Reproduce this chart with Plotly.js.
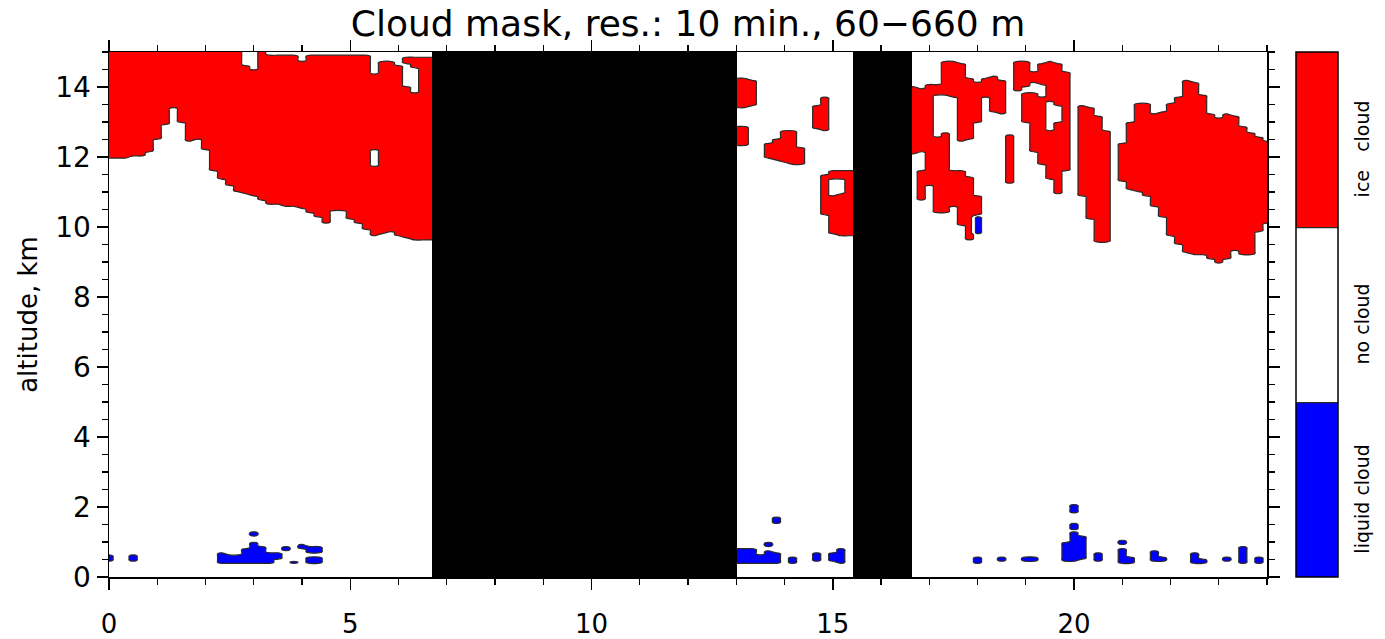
<!DOCTYPE html>
<html>
<head>
<meta charset="utf-8">
<script src="https://cdn.plot.ly/plotly-3.0.1.min.js"></script>
<style>
html, body { margin: 0; padding: 0; background: #ffffff; }
#chart { width: 1385px; height: 639px; }
</style>
</head>
<body>
<div id="chart"></div>
<script>
// ---------------- data ----------------
const chartTitle = 'Cloud mask, res.: 10 min., 60\u2212660 m';
const yTitle = 'altitude, km';
const classValues = [0, 1, 2];
const classLabels = ['liquid\u00a0cloud', 'no\u00a0cloud', 'ice\u00a0\u00a0\u00a0cloud'];
const classColors = ['#0000ff', '#ffffff', '#ff0000'];

// periods without data (hours)
const gapStart = [6.70, 15.41];
const gapEnd = [13.02, 16.64];

// ice cloud layers: one entry per 10-min profile segment (hour, base km, top km)
const iceTime = [
  0, 0.167, 0.333, 0.5, 0.667, 0.833, 1.0, 1.167, 1.333, 1.5, 1.667, 1.833, 2.0, 2.167, 2.333, 2.5, 2.667,
  2.833, 3.0, 3.167, 3.333, 3.5, 3.667, 3.833, 4.0, 4.167, 4.333, 4.5, 4.667, 4.833, 5.0, 5.167, 5.333,
  5.5, 5.5, 5.667, 5.833, 6.0, 6.167, 6.167, 6.333, 6.333, 6.5, 6.667,
  13.167, 13.167, 13.333, 13.667, 13.833, 14.0, 14.167, 14.333, 14.667, 14.833, 14.833,
  15.0, 15.0, 15.167, 15.167, 15.333,
  16.667, 16.833, 16.833, 17.0, 17.167, 17.167, 17.333, 17.333, 17.5, 17.5, 17.667, 17.667,
  17.833, 17.833, 18.0, 18.0, 18.167, 18.333, 18.5, 18.667, 18.833, 19.0, 19.0, 19.167, 19.167,
  19.333, 19.333, 19.5, 19.5, 19.667, 19.667, 19.833,
  20.167, 20.333, 20.5, 20.667,
  21.0, 21.167, 21.333, 21.5, 21.667, 21.833, 22.0, 22.167, 22.333, 22.5, 22.667, 22.833,
  23.0, 23.167, 23.333, 23.5, 23.667, 23.833, 24.0
];
const iceBase = [
  12.00, 12.00, 12.00, 12.05, 12.05, 12.15, 12.50, 12.95, 13.42, 13.00, 12.45, 12.50, 12.20, 11.60, 11.35, 11.20, 11.00,
  10.95, 10.88, 10.75, 10.67, 10.65, 10.62, 10.58, 10.52, 10.40, 10.28, 10.12, 10.50, 10.45, 10.25, 10.12, 9.93,
  9.78, 12.20, 9.80, 9.87, 9.74, 9.70, 14.65, 9.65, 14.55, 9.63, 9.63,
  13.40, 12.35, 13.45, 11.97, 11.90, 11.85, 11.80, 11.80, 12.80, 12.77, 10.37,
  9.80, 11.35, 9.77, 11.35, 9.77,
  12.10, 12.15, 10.77, 11.20, 10.44, 13.77, 10.44, 13.77, 10.60, 13.70, 10.05, 12.44,
  9.63, 12.50, 10.35, 13.00, 13.70, 13.30, 13.25, 11.25, 13.91, 13.00, 14.00, 12.15, 14.15,
  11.77, 14.06, 11.39, 13.58, 10.96, 13.49, 11.60,
  10.91, 10.25, 9.58, 9.58,
  11.30, 11.08, 11.00, 10.90, 10.60, 10.30, 9.75, 9.50, 9.30, 9.20, 9.20, 9.10,
  9.00, 9.10, 9.34, 9.20, 9.20, 9.85, 10.10
];
const iceTop = [
  15.00, 15.00, 15.00, 15.00, 15.00, 15.00, 15.00, 15.00, 15.00, 15.00, 15.00, 15.00, 15.00, 15.00, 15.00, 15.00, 15.00,
  14.60, 14.50, 15.00, 14.90, 14.90, 14.90, 14.90, 14.75, 14.90, 14.90, 14.90, 14.90, 14.90, 14.90, 14.90, 14.90,
  11.75, 14.35, 14.75, 14.75, 14.60, 14.00, 14.85, 13.85, 14.85, 14.85, 14.85,
  14.25, 12.85, 14.20, 12.40, 12.50, 12.73, 12.73, 12.27, 13.47, 13.68, 11.48,
  10.90, 11.58, 10.95, 11.58, 11.58,
  14.01, 13.96, 11.63, 14.06, 12.58, 14.06, 12.70, 14.72, 11.60, 14.72, 11.63, 14.68,
  11.44, 14.25, 10.90, 14.10, 14.25, 14.30, 14.20, 12.63, 14.72, 13.80, 14.72, 13.82, 14.44,
  13.72, 14.68, 12.77, 14.72, 13.00, 14.68, 14.40,
  13.49, 13.39, 13.15, 12.72,
  12.40, 13.00, 13.55, 13.50, 13.25, 13.30, 13.55, 13.70, 14.20, 14.10, 13.75, 13.20,
  13.10, 13.20, 13.15, 12.85, 12.70, 12.55, 12.45
];

// liquid cloud layers (hour, base km, top km)
const liqTime = [
  0, 0.5, 2.333, 2.5, 2.667, 2.833, 3.0, 3.0, 3.167, 3.333, 3.5, 3.667, 3.833, 4.0, 4.167, 4.167, 4.333, 4.333,
  13.167, 13.333, 13.5, 13.667, 13.667, 13.833, 13.833, 14.167, 14.667, 15.0, 15.167,
  18.0, 18.0, 18.5, 19.0, 19.167, 19.833, 20.0, 20.0, 20.0, 20.167, 20.5, 21.0, 21.0, 21.167,
  21.667, 21.833, 22.5, 22.667, 23.167, 23.5, 23.833
];
const liqBase = [
  0.45, 0.45, 0.39, 0.39, 0.39, 0.39, 0.39, 1.18, 0.39, 0.39, 0.50, 0.77, 0.40, 0.84, 0.70, 0.37, 0.70, 0.37,
  0.42, 0.42, 0.42, 0.42, 0.90, 0.42, 1.53, 0.42, 0.45, 0.45, 0.42,
  0.42, 9.80, 0.45, 0.43, 0.43, 0.45, 0.45, 1.38, 1.82, 0.50, 0.45, 0.42, 0.92, 0.42,
  0.45, 0.45, 0.42, 0.42, 0.45, 0.42, 0.42
];
const liqTop = [
  0.60, 0.60, 0.68, 0.60, 0.62, 0.82, 1.00, 1.26, 0.85, 0.70, 0.68, 0.84, 0.47, 0.90, 0.86, 0.55, 0.86, 0.55,
  0.82, 0.78, 0.62, 0.75, 1.00, 0.70, 1.68, 0.55, 0.70, 0.70, 0.80,
  0.58, 10.30, 0.56, 0.58, 0.58, 1.00, 1.30, 1.50, 2.08, 1.15, 0.70, 0.80, 1.05, 0.55,
  0.72, 0.55, 0.68, 0.52, 0.55, 0.88, 0.55
];

// ---------------- grid from the data ----------------
const timeStep = 1 / 6;      // 10 min
const heightStep = 0.06;     // 60 m
const tMax = 24, hMax = 15;
const nT = Math.round(tMax / timeStep) + 1;
const nH = Math.round(hMax / heightStep) + 1;
const tGrid = Array.from({length: nT}, (_, j) => j * timeStep);
const hGrid = Array.from({length: nH}, (_, i) => Math.round(i * heightStep * 1000) / 1000);
const cols = tGrid.map(() => hGrid.map(() => classValues[1]));

function paint(times, bases, tops, val) {
  for (let k = 0; k < times.length; k++) {
    const j = Math.round(times[k] / timeStep);
    for (let i = 0; i < nH; i++) {
      if (hGrid[i] >= bases[k] - 1e-9 && hGrid[i] <= tops[k] + 1e-9) cols[j][i] = val;
    }
  }
}
paint(iceTime, iceBase, iceTop, classValues[2]);
paint(liqTime, liqBase, liqTop, classValues[0]);

// columns inside no-data periods take the nearest measured profile (hidden under the black bars)
const inGap = t => gapStart.some((s, g) => t > s && t < gapEnd[g]);
const filled = cols.map(c => c.slice());
for (let j = 0; j < nT; j++) {
  if (!inGap(tGrid[j])) continue;
  let best = -1, bd = 1e9;
  for (let k = 0; k < nT; k++) {
    if (inGap(tGrid[k])) continue;
    const d = Math.abs(k - j);
    if (d < bd) { bd = d; best = k; }
  }
  filled[j] = cols[best].slice();
}
const z = hGrid.map((_, i) => tGrid.map((_, j) => filled[j][i]));

const FONT = 'DejaVu Sans';
const labelNudge = 0.07;   // colour-bar labels sit slightly below band centres

const cloudTrace = {
  type: 'contour',
  x: tGrid, y: hGrid, z: z,
  zmin: -0.5, zmax: 2.5,
  autocontour: false,
  contours: {start: 0.5, end: 1.5, size: 1, coloring: 'fill', showlines: true},
  colorscale: [
    [0, classColors[0]], [1/3, classColors[0]],
    [1/3, classColors[1]], [2/3, classColors[1]],
    [2/3, classColors[2]], [1, classColors[2]]
  ],
  line: {color: '#2a2a2a', width: 1.2, smoothing: 1.3},
  hoverinfo: 'skip',
  colorbar: {
    tickmode: 'array', tickvals: classValues.map(v => v - labelNudge), ticktext: classLabels,
    tickangle: -90, ticks: 'outside', ticklen: 8, tickcolor: 'rgba(0,0,0,0)',
    thickness: 42, thicknessmode: 'pixels',
    len: 1, lenmode: 'fraction',
    x: 1.0242, xanchor: 'left', xpad: 0,
    y: 0.5, yanchor: 'middle', ypad: 0,
    outlinecolor: '#000', outlinewidth: 1.5,
    tickfont: {family: FONT, size: 19, color: '#000'}
  }
};

// no-data periods drawn as full-height black bars
const gapTrace = {
  type: 'bar',
  x: gapStart.map((s, g) => (s + gapEnd[g]) / 2),
  width: gapStart.map((s, g) => gapEnd[g] - s),
  y: gapStart.map(() => hMax),
  base: 0,
  marker: {color: '#000000', line: {width: 0}},
  hoverinfo: 'skip'
};

const layout = {
  width: 1385, height: 639,
  margin: {l: 109, r: 117, t: 52, b: 62},
  paper_bgcolor: '#ffffff', plot_bgcolor: '#ffffff',
  font: {family: FONT, color: '#000'},
  title: {text: chartTitle, font: {family: FONT, size: 36, color: '#000'},
          x: 0.5, xref: 'paper', xanchor: 'center', y: 0.963, yref: 'container', yanchor: 'middle'},
  xaxis: {
    range: [0, tMax], tickmode: 'linear', tick0: 0, dtick: 5,
    ticks: 'outside', ticklen: 11, tickwidth: 1.5, tickcolor: '#000',
    minor: {dtick: 1, ticks: 'outside', ticklen: 6, tickwidth: 1.2, tickcolor: '#000'},
    showline: true, linecolor: '#000', linewidth: 1.5, mirror: 'ticks',
    showgrid: false, zeroline: false,
    tickfont: {family: FONT, size: 26, color: '#000'}, ticklabelstandoff: 12
  },
  yaxis: {
    range: [0, hMax], tickmode: 'linear', tick0: 0, dtick: 2,
    ticks: 'outside', ticklen: 11, tickwidth: 1.5, tickcolor: '#000',
    minor: {dtick: 0.5, ticks: 'outside', ticklen: 6, tickwidth: 1.2, tickcolor: '#000'},
    showline: true, linecolor: '#000', linewidth: 1.5, mirror: 'ticks',
    showgrid: false, zeroline: false,
    tickfont: {family: FONT, size: 28, color: '#000'},
    title: {text: yTitle, font: {family: FONT, size: 26, color: '#000'}, standoff: 10}
  },
  bargap: 0,
  showlegend: false
};

Plotly.newPlot('chart', [cloudTrace, gapTrace], layout, {staticPlot: true, displayModeBar: false});
</script>
</body>
</html>
